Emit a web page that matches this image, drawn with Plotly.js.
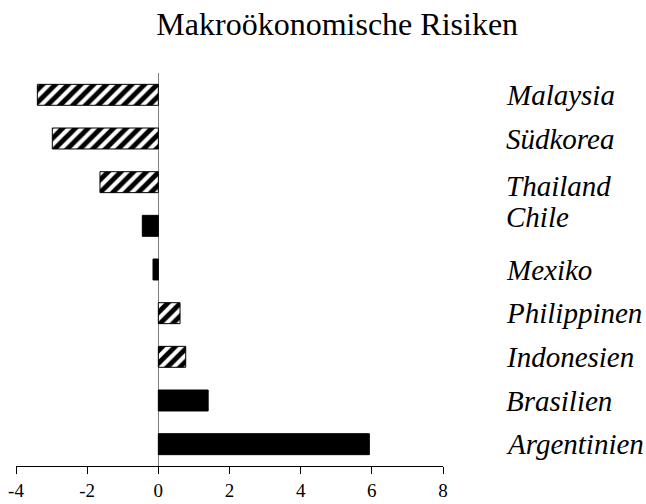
<!DOCTYPE html>
<html>
<head>
<meta charset="utf-8">
<script src="https://cdn.plot.ly/plotly-3.0.1.min.js"></script>
<style>html,body{margin:0;padding:0;background:#fff;}#chart{width:646px;height:504px;}</style>
</head>
<body>
<div id="chart"></div>
<script>
var countries = ["Malaysia", "Südkorea", "Thailand", "Chile", "Mexiko", "Philippinen", "Indonesien", "Brasilien", "Argentinien"];
var values = [-3.40, -2.98, -1.64, -0.45, -0.15, 0.61, 0.77, 1.40, 5.93];
var hatched = [true, true, true, false, false, true, true, false, false];
var tickVals = [-4, -2, 0, 2, 4, 6, 8];
var tickText = ["-4", "-2", "0", "2", "4", "6", "8"];
var titleText = "Makroökonomische Risiken";

// label vertical offsets (px) for the right-hand country labels
var labelShift = [0, 0, -4, 9, 0, 0, 0, 0, 0];

var serif = "Liberation Serif, Times New Roman, serif";

function pick(flag) {
  return {
    y: countries.filter(function(c, i){ return hatched[i] === flag; }),
    x: values.filter(function(v, i){ return hatched[i] === flag; })
  };
}
var hp = pick(true), sp = pick(false);

var hatchTrace = {
  type: "bar", orientation: "h",
  y: hp.y, x: hp.x,
  opacity: 1,
  marker: {
    color: "black",
    opacity: 1,
    line: {color: "black", width: 1},
    pattern: {shape: "/", fgcolor: "black", fgopacity: 1, bgcolor: "white", size: 9, solidity: 0.55, fillmode: "overlay"}
  },
  hoverinfo: "none"
};
var solidTrace = {
  type: "bar", orientation: "h",
  y: sp.y, x: sp.x,
  opacity: 1,
  marker: {color: "black", line: {color: "black", width: 1}},
  hoverinfo: "none"
};

var annotations = countries.map(function(c, i){
  return {
    xref: "paper", yref: "y",
    x: 1.143, y: c,
    xanchor: "left", yanchor: "middle",
    yshift: labelShift[i],
    text: c,
    showarrow: false,
    font: {family: serif, size: 29, color: "black", style: "italic"}
  };
});

var layout = {
  width: 646, height: 504,
  margin: {l: 16, r: 203, t: 73, b: 38},
  paper_bgcolor: "white",
  plot_bgcolor: "white",
  showlegend: false,
  barmode: "overlay",
  bargap: 0.52,
  title: {
    text: titleText,
    x: 0.522, xref: "container", xanchor: "center",
    y: 0.952, yref: "container", yanchor: "middle",
    font: {family: serif, size: 32, color: "black"}
  },
  xaxis: {
    range: [-4, 8],
    tickvals: tickVals,
    ticktext: tickText,
    ticks: "outside",
    ticklen: 7,
    tickcolor: "black",
    tickwidth: 1,
    showline: true,
    linecolor: "black",
    linewidth: 1,
    showgrid: false,
    zeroline: true,
    zerolinecolor: "#808080",
    zerolinewidth: 1,
    tickfont: {family: serif, size: 19, color: "black"},
    fixedrange: true
  },
  yaxis: {
    categoryorder: "array",
    categoryarray: countries,
    range: [8.5, -0.5],
    showticklabels: false,
    ticks: "",
    showgrid: false,
    zeroline: false,
    showline: false,
    fixedrange: true
  },
  annotations: annotations
};

Plotly.newPlot("chart", [hatchTrace, solidTrace], layout, {displayModeBar: false});
</script>
</body>
</html>
